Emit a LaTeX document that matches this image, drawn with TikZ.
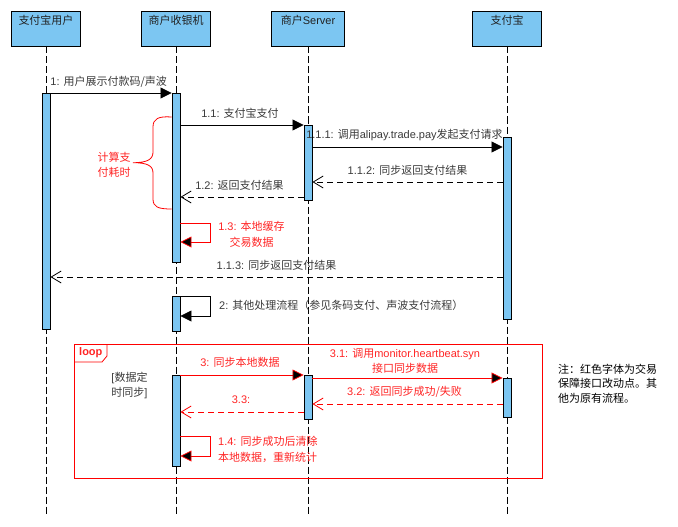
\documentclass[tikz,border=0pt]{standalone}
\usepackage{fontspec}
\setmainfont{Liberation Sans}
\newfontfamily\cjk{Noto Sans CJK SC}
\newcommand\zh[1]{{\cjk #1}}
\usetikzlibrary{arrows.meta}
\definecolor{boxblue}{HTML}{7CC6F2}
\definecolor{textgray}{HTML}{3A3A3A}
\definecolor{textdark}{HTML}{222222}
\definecolor{redline}{HTML}{FF0000}
\definecolor{redtext}{HTML}{FF2424}
\begin{document}
\begin{tikzpicture}[x=1pt,y=-1pt,
  actorbox/.style={draw=black, line width=0.9pt, fill=boxblue, minimum width=69pt, minimum height=34.7pt, inner sep=0pt},
  actortxt/.style={inner sep=0pt, text=textdark, font=\fontsize{11}{13}\selectfont},
  lifeline/.style={draw=black, line width=0.8pt, dash pattern=on 7pt off 3pt},
  bar/.style={draw=black, fill=boxblue, line width=0.9pt, minimum width=8pt, inner sep=0pt, anchor=north},
  msg/.style={draw=black, line width=0.8pt, -{Triangle[length=11pt,width=11pt]}},
  ret/.style={draw=black, line width=0.8pt, dash pattern=on 6pt off 4pt, -{Straight Barb[length=10pt,width=12pt]}},
  redmsg/.style={draw=redline, line width=0.8pt, -{Triangle[length=11pt,width=11pt,fill=black]}},
  redret/.style={draw=redline, line width=0.8pt, dash pattern=on 6pt off 4pt, -{Straight Barb[length=10pt,width=12pt]}},
  lbl/.style={inner sep=0pt, text=textgray, font=\fontsize{11}{15.5}\selectfont, align=center},
  redlbl/.style={lbl, text=redtext},
  notelbl/.style={inner sep=0pt, text=black, font=\fontsize{11}{14.6}\selectfont, align=left, anchor=west},
  frame/.style={draw=redline, line width=0.8pt}
]
\useasboundingbox (0,0) rectangle (678,527);

% actors
\node[actorbox] (u) at (46,28.7) {};
\node[actorbox] (c) at (176,28.7) {};
\node[actorbox, minimum width=73pt] (s) at (308,28.7) {};
\node[actorbox] (a) at (507,28.7) {};
\node[actortxt] (uT) at (46,20.7) {\zh{支付宝用户}};
\node[actortxt] (cT) at (176,20.7) {\zh{商户收银机}};
\node[actortxt] (sT) at (308,20.7) {\zh{商户}Server};
\node[actortxt] (aT) at (507,20.7) {\zh{支付宝}};

% lifelines
\coordinate (uEnd) at (46,515);
\coordinate (cEnd) at (176,515);
\coordinate (sEnd) at (308,515);
\coordinate (aEnd) at (507,515);
\draw[lifeline] (u.south) -- (uEnd);
\draw[lifeline] (c.south) -- (cEnd);
\draw[lifeline] (s.south) -- (sEnd);
\draw[lifeline] (a.south) -- (aEnd);

% loop frame
\draw[frame] (74,344) rectangle (542.5,478);
\draw[frame] (74,362) -- (102,362) -- (107,356) -- (107,344);
\node[inner sep=0pt, anchor=west, text=redtext, font=\bfseries\fontsize{11}{13}\selectfont] (loopT) at (79,353) {loop};

% activation bars
\node[bar, minimum height=236pt] (uA) at (46,93) {};
\node[bar, minimum height=169pt] (cA) at (176,93) {};
\node[bar, minimum height=75pt] (sA) at (308,125) {};
\node[bar, minimum height=182pt] (aA) at (507,137) {};
\node[bar, minimum height=35pt] (cB) at (176,296) {};
\node[bar, minimum height=91pt] (cC) at (176,375) {};
\node[bar, minimum height=44pt] (sB) at (308,375) {};
\node[bar, minimum height=39pt] (aB) at (507,378) {};

% brace
\draw[redline, line width=0.8pt]
  (cA.west |- 0,117) .. controls (158,116) and (153,119) .. (153,127) -- (153,152)
  .. controls (153,159) and (148,162.7) .. (133,162.7)
  .. controls (148,162.7) and (153,166) .. (153,173) -- (153,199)
  .. controls (153,207) and (158,209) .. (cA.west |- 0,209);
\node[redlbl] (braceT) at (114,165) {\zh{计算支}\\\zh{付耗时}};

% messages
\draw[msg] (uA.north east) -- (cA.north west);
\node[lbl] (m1) at (108.7,81.7) {1: \zh{用户展示付款码/声波}};

\draw[msg] (cA.east |- 0,125) -- (sA.north west);
\node[lbl] (m11) at (240,113) {1.1: \zh{支付宝支付}};

\draw[msg] (sA.east |- 0,147) -- (aA.west |- 0,147);
\node[lbl] (m111) at (404.5,135) {1.1.1: \zh{调用}alipay.trade.pay\zh{发起支付请求}};

\draw[ret] (aA.west |- 0,182) -- (sA.east |- 0,182);
\node[lbl] (m112) at (407.5,170) {1.1.2: \zh{同步返回支付结果}};

\draw[ret] (sA.west |- 0,197) -- (cA.east |- 0,197);
\node[lbl] (m12) at (239.5,185) {1.2: \zh{返回支付结果}};

\draw[redmsg] (cA.east |- 0,223) -- ++(30,0) -- ++(0,19) -- (cA.east |- 0,242);
\node[redlbl] (m13) at (251.5,234.5) {1.3: \zh{本地缓存}\\\zh{交易数据}};

\draw[ret] (aA.west |- 0,277) -- (uA.east |- 0,277);
\node[lbl] (m113) at (276.5,265) {1.1.3: \zh{同步返回支付结果}};

\draw[msg] (cB.north east) -- ++(30,0) -- ++(0,20) -- (cB.east |- 0,316);
\node[lbl, anchor=west] (m2) at (219,305) {2: \zh{其他处理流程（参见条码支付、声波支付流程）}};

\node[lbl] (guard) at (129.5,385.5) {[\zh{数据定}\\\zh{时同步}]};

\draw[redmsg] (cC.north east) -- (sB.north west);
\node[redlbl] (m3) at (240,362.7) {3: \zh{同步本地数据}};

\draw[redmsg] (sB.east |- 0,378) -- (aB.north west);
\node[redlbl] (m31) at (405,361) {3.1: \zh{调用}monitor.heartbeat.syn\\\zh{接口同步数据}};

\draw[redret] (aB.west |- 0,404) -- (sB.east |- 0,404);
\node[redlbl] (m32) at (404.5,392) {3.2: \zh{返回同步成功/失败}};

\draw[redret] (sB.west |- 0,412) -- (cC.east |- 0,412);
\node[redlbl] (m33) at (241,400) {3.3:};

\draw[redmsg] (cC.east |- 0,436) -- ++(30,0) -- ++(0,20) -- (cC.east |- 0,456);
\node[redlbl, anchor=west, align=left] (m14) at (218,449.5) {1.4: \zh{同步成功后清除}\\\zh{本地数据，重新统计}};

% note
\node[notelbl] (note) at (558,383.5) {\zh{注：红色字体为交易}\\\zh{保障接口改动点。其}\\\zh{他为原有流程。}};
\end{tikzpicture}
\end{document}
